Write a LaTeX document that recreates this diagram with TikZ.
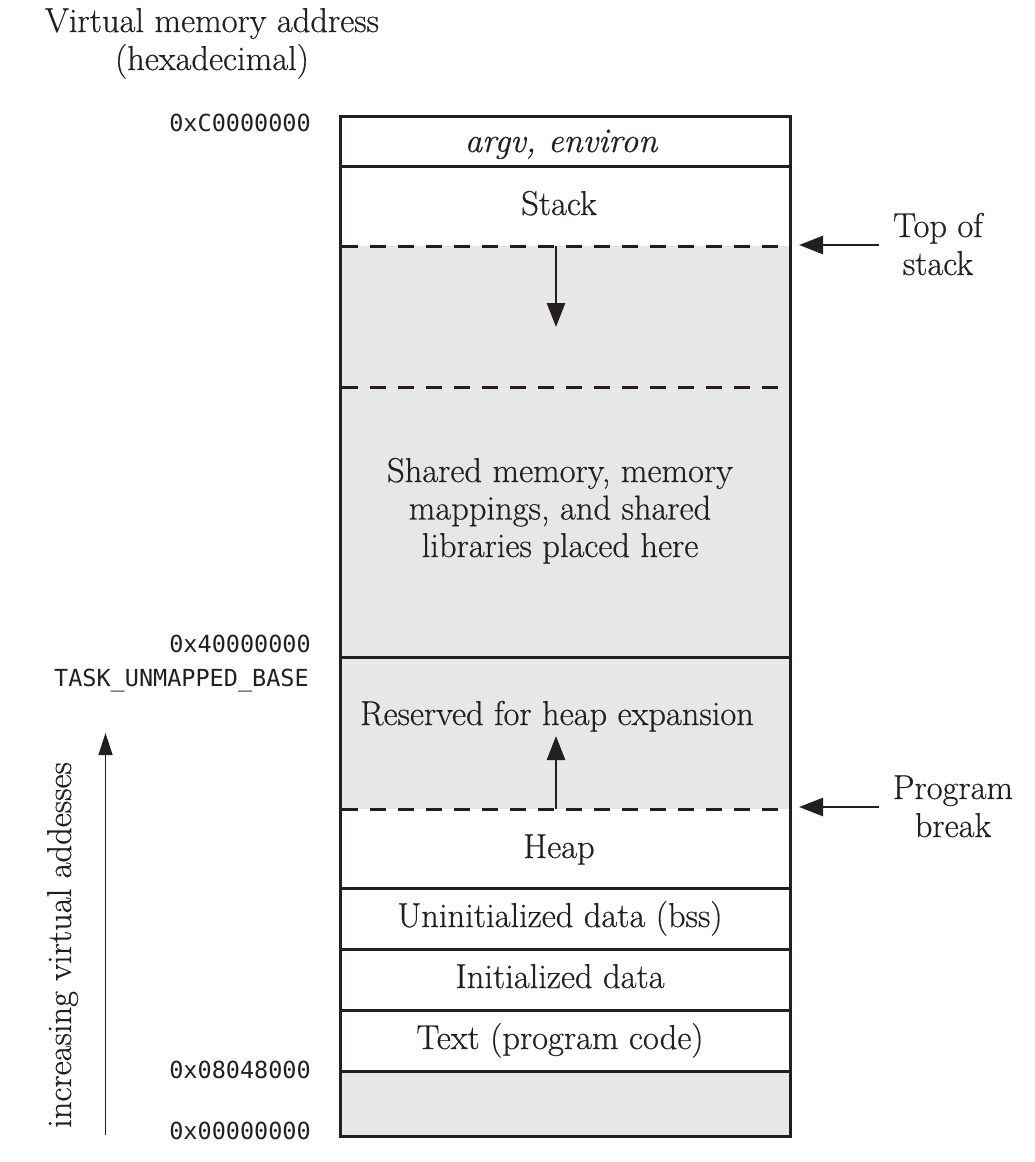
\documentclass[tikz,border=0pt]{standalone}
\usepackage{fontspec}
\setmainfont{Latin Modern Roman}[FakeBold=0.5]
\setmonofont{DejaVu Sans Mono}
\usetikzlibrary{arrows.meta}
\definecolor{memgray}{HTML}{E6E7E7}
\definecolor{dashcol}{HTML}{2A1A1A}
\definecolor{ink}{HTML}{231F20}
\tikzset{
  wall/.style={draw=ink, line width=3pt},
  dashsep/.style={draw=dashcol, line width=3pt, dash pattern=on 16pt off 12pt},
  seglabel/.style={anchor=base, font=\fontsize{34.5}{37.5}\selectfont, text=ink, align=center, inner sep=0pt},
  addr/.style={anchor=base east, font=\fontsize{23.5}{28}\selectfont\ttfamily, text=ink, inner sep=0pt},
  sidelabel/.style={anchor=base, font=\fontsize{34.5}{38}\selectfont, text=ink, align=center, inner sep=0pt},
  bigarrow/.style={draw=ink, line width=2.6pt, -{Triangle[length=24pt,width=18pt]}},
  thinarrow/.style={draw=ink, line width=1.4pt, -{Triangle[length=22pt,width=14pt]}}
}
\begin{document}
\begin{tikzpicture}[x=1pt,y=-1pt]
\useasboundingbox (0,0) rectangle (1034,1162);
% box coordinates
\coordinate (tl) at (340,116);
\coordinate (br) at (790,1136);
% shaded regions
\fill[memgray] (340,246) rectangle (790,809);
\fill[memgray] (340,1071) rectangle (790,1136);
% solid separators
\draw[wall] (340,166) -- (790,166);
\draw[wall] (340,657) -- (790,657);
\draw[wall] (340,888) -- (790,888);
\draw[wall] (340,949) -- (790,949);
\draw[wall] (340,1010) -- (790,1010);
\draw[wall] (340,1071) -- (790,1071);
% dashed separators
\draw[dashsep] (342,246) -- (788,246);
\draw[dashsep] (342,387) -- (788,387);
\draw[dashsep] (342,809) -- (788,809);
% outer box
\draw[wall] (tl) rectangle (br);

% segment labels
\node[seglabel, font=\fontsize{34.5}{37.5}\selectfont\itshape] (argv) at (561,152) {argv, environ};
\node[seglabel] (stack) at (559,215) {Stack};
\node[seglabel] (shared) at (560,557) {Shared memory, memory\\mappings, and shared\\libraries placed here};
\node[seglabel] (reserved) at (557,725) {Reserved for heap expansion};
\node[seglabel] (heap) at (559,858) {Heap};
\node[seglabel] (bss) at (560,927) {Uninitialized data (bss)};
\node[seglabel] (init) at (560,988) {Initialized data};
\node[seglabel] (text) at (560,1049) {Text (program code)};

% growth arrows
\coordinate (stacktop) at (556,246);
\coordinate (stackgrow) at (556,327);
\coordinate (brk) at (556,809);
\coordinate (heapgrow) at (556,736);
\draw[bigarrow] (stacktop) -- (stackgrow);
\draw[bigarrow] (brk) -- (heapgrow);

% right-hand labels
\node[sidelabel] (tos) at (938,275) {Top of\\stack};
\node[sidelabel] (pb) at (953,837) {Program\\break};
\coordinate (tosfrom) at (879,245);
\coordinate (tosto) at (799,245);
\coordinate (pbfrom) at (879,807);
\coordinate (pbto) at (799,807);
\draw[bigarrow] (tosfrom) -- (tosto);
\draw[bigarrow] (pbfrom) -- (pbto);

% heading
\node[sidelabel] (head) at (212,70) {Virtual memory address\\(hexadecimal)};

% addresses
\node[addr] (a1) at (311,131) {0xC0000000};
\node[addr] (a2) at (311,652) {0x40000000};
\node[addr] (a3) at (309,686) {TASK\_UNMAPPED\_BASE};
\node[addr] (a4) at (311,1078) {0x08048000};
\node[addr] (a5) at (311,1139) {0x00000000};

% increasing addresses
\coordinate (incbot) at (105.5,1135);
\coordinate (inctop) at (105.5,733);
\draw[thinarrow] (incbot) -- (inctop);
\node[anchor=base west, rotate=90, font=\fontsize{34.5}{38}\selectfont, text=ink, inner sep=0pt] (inc) at (71,1128) {increasing virtual addesses};
\end{tikzpicture}
\end{document}
